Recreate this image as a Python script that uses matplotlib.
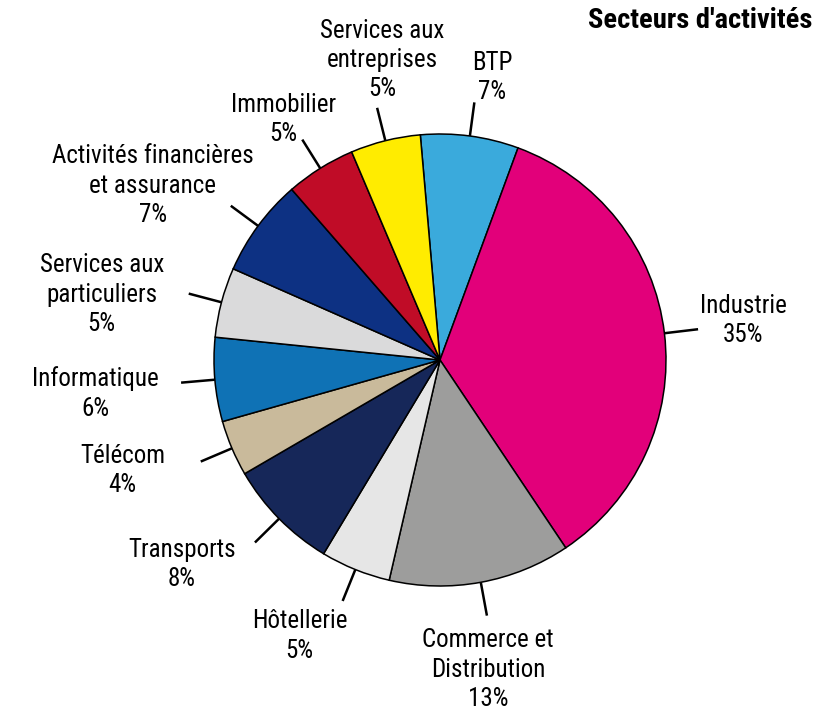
import numpy as np
import matplotlib
matplotlib.use("agg")
import matplotlib.pyplot as plt
from matplotlib import font_manager

# pick a narrow sans if one is around, otherwise a regular one
fonts = font_manager.fontManager.ttflist
names = {f.name for f in fonts}
narrow = [f for f in fonts if str(f.stretch) in ('condensed', 'semi-condensed', '500', '600')
          or 'Narrow' in f.name or 'Condensed' in f.name]
family, stretch = 'Liberation Sans', 'normal'
for cand in ['Liberation Sans Narrow', 'Roboto Condensed', 'Open Sans Condensed',
             'Noto Sans Condensed', 'DejaVu Sans Condensed']:
    if cand in names:
        family = cand
        break
else:
    if narrow:
        family, stretch = narrow[0].name, narrow[0].stretch
plt.rcParams['font.family'] = [family, 'DejaVu Sans']
plt.rcParams['font.stretch'] = stretch

# Sector shares, clockwise from the top
sectors = ["BTP", "Industrie", "Commerce et\nDistribution", "Hôtellerie",
           "Transports", "Télécom", "Informatique", "Services aux\nparticuliers",
           "Activités financières\net assurance", "Immobilier",
           "Services aux\nentreprises"]
shares = [7, 35, 13, 5, 8, 4, 6, 5, 7, 5, 5]
colors = ["#3aaadc", "#e2007a", "#9d9d9c", "#e6e6e6", "#162759", "#c9ba9b",
          "#0f72b5", "#dadadb", "#0d3183", "#c00c27", "#ffec00"]

# label offsets (px) from the end of each leader line
label_offsets = [(18, 25), (45, 9), (1, -54), (-43, -35), (-73, -22),
                 (-78, -9), (-86, -11), (-87, -1), (-78, 20), (-19, 20),
                 (5, 48)]

W, H = 817, 711
cx, cy, R = 440, H - 360, 226
start = 95

fig = plt.figure(figsize=(W / 100, H / 100), dpi=100)
ax = fig.add_axes([0, 0, 1, 1])

wedges, _ = ax.pie(shares, colors=colors, startangle=start, counterclock=False,
                   center=(cx, cy), radius=R, frame=True,
                   wedgeprops=dict(edgecolor='black', linewidth=1.1))
ax.set_xlim(0, W)
ax.set_ylim(0, H)
ax.set_aspect('equal')
ax.axis('off')

for w, name, val, (ox, oy) in zip(wedges, sectors, shares, label_offsets):
    mid = np.deg2rad((w.theta1 + w.theta2) / 2)
    x0, y0 = cx + R * np.cos(mid), cy + R * np.sin(mid)
    x1, y1 = cx + 1.15 * R * np.cos(mid), cy + 1.15 * R * np.sin(mid)
    ax.plot([x0, x1], [y0, y1], color='black', lw=1.8, solid_capstyle='butt')
    ax.text(x1 + ox, y1 + oy, f"{name}\n{val}%", ha='center', va='center',
            fontsize=18, color='black', linespacing=1.28)

ax.text(812, H - 21, "Secteurs d'activités", ha='right', va='center',
        fontsize=20.5, fontweight='bold', color='black')

fig.savefig("out.png", dpi=100)
